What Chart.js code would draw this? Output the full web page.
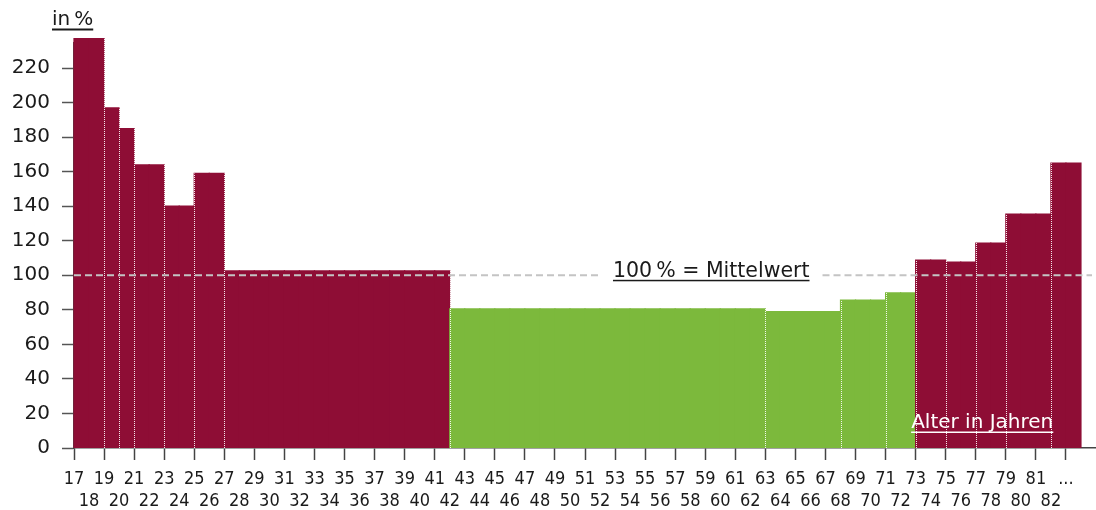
<!DOCTYPE html>
<html>
<head>
<meta charset="utf-8">
<script src="https://cdn.jsdelivr.net/npm/chart.js@4.4.0/dist/chart.umd.min.js"></script>
<style>
  body { margin: 0; background: #fff; }
  #wrap { width: 1096px; height: 510px; position: relative; }
</style>
</head>
<body>
<div id="wrap"><canvas id="chart"></canvas></div>
<script>
// tick labels of the age axis (ages 17 ... 83)
const ageLabels = [
  '17','18','19','20','21','22','23','24','25','26','27','28','29','30','31','32',
  '33','34','35','36','37','38','39','40','41','42','43','44','45','46','47','48',
  '49','50','51','52','53','54','55','56','57','58','59','60','61','62','63','64',
  '65','66','67','68','69','70','71','72','73','74','75','76','77','78','79','80',
  '81','82','...'
];
const yTicks = [0, 20, 40, 60, 80, 100, 120, 140, 160, 180, 200, 220];

// age groups: first age, first age of the next group, value in %
const groupFrom = [17, 19, 20, 21, 23, 25, 27, 42, 63, 68, 71, 73, 75, 77, 79, 82];
const groupTo = [19, 20, 21, 23, 25, 27, 42, 63, 68, 71, 73, 75, 77, 79, 82, 84];
const groupValues = [237, 197, 185, 164, 140, 159, 102.5, 80.5, 79, 85.7, 89.8, 108.8, 107.7, 118.7, 135.4, 164.9];

const MEAN = 100;
const RED = '#8e0d35';
const GREEN = '#7cb93c';
const FONT = "'DejaVu Sans', sans-serif";

// one bar per year, every year gets the value of its group
const firstAge = groupFrom[0];
const axisEnd = groupTo[groupTo.length - 1] + 1;
const barAges = [];
const barValues = [];
for (let a = firstAge; a < axisEnd; a++) {
  barAges.push(String(a));
  const g = groupFrom.findIndex((f, i) => a >= f && a < groupTo[i]);
  barValues.push(g < 0 ? null : groupValues[g]);
}

const overlay = {
  id: 'overlay',
  afterDatasetsDraw(chart) {
    const { ctx, chartArea, scales: { x, y } } = chart;
    ctx.save();

    // white dotted separators between groups
    ctx.strokeStyle = 'rgba(255,255,255,0.9)';
    ctx.lineWidth = 1;
    ctx.setLineDash([1, 1]);
    for (let g = 1; g < groupFrom.length; g++) {
      const px = Math.round(x.getPixelForValue(groupFrom[g])) + 0.5;
      const top = y.getPixelForValue(Math.max(groupValues[g - 1], groupValues[g]));
      ctx.beginPath();
      ctx.moveTo(px, y.getPixelForValue(0));
      ctx.lineTo(px, top);
      ctx.stroke();
    }

    // mean line with its label
    const my = y.getPixelForValue(MEAN);
    const label = '100\u2009% = Mittelwert';
    ctx.font = '20.5px ' + FONT;
    const tw = ctx.measureText(label).width;
    const cx = x.getPixelForValue(59.4);
    const gapL = cx - tw / 2 - 13;
    const gapR = cx + tw / 2 + 13;
    ctx.strokeStyle = '#c4c4c4';
    ctx.lineWidth = 2;
    ctx.setLineDash([7, 4]);
    ctx.beginPath();
    ctx.moveTo(chartArea.left, my);
    ctx.lineTo(gapL, my);
    ctx.moveTo(gapR, my);
    ctx.lineTo(chartArea.right - 4, my);
    ctx.stroke();
    ctx.setLineDash([]);

    ctx.fillStyle = '#1a1a1a';
    ctx.textAlign = 'center';
    ctx.textBaseline = 'alphabetic';
    ctx.fillText(label, cx, my + 2);
    ctx.fillRect(cx - tw / 2, my + 4.5, tw, 1.5);

    // unit label
    ctx.font = '20px ' + FONT;
    ctx.textAlign = 'left';
    const unit = 'in\u2009%';
    const uw = ctx.measureText(unit).width;
    ctx.fillText(unit, 52, 25);
    ctx.fillRect(52, 28.5, uw, 2);

    // axis title inside the bars
    ctx.fillStyle = '#fff';
    const title = 'Alter in Jahren';
    const ttw = ctx.measureText(title).width;
    const tx = x.getPixelForValue(72.7);
    ctx.fillText(title, tx, chartArea.bottom - 20);
    ctx.fillRect(tx, chartArea.bottom - 16.5, ttw, 1.5);

    ctx.restore();
  }
};

new Chart(document.getElementById('chart'), {
  type: 'bar',
  data: {
    labels: barAges,
    datasets: [{
      data: barValues,
      xAxisID: 'xb',
      backgroundColor: barValues.map(v => v >= MEAN ? RED : GREEN),
      borderWidth: 0,
      barPercentage: 1,
      categoryPercentage: 1,
      inflateAmount: 0.6,
      clip: false
    }]
  },
  options: {
    responsive: true,
    maintainAspectRatio: false,
    animation: false,
    layout: { padding: { top: 43, left: 0, right: 0, bottom: 0 } },
    plugins: { legend: { display: false }, tooltip: { enabled: false } },
    scales: {
      xb: {
        type: 'category',
        display: false,
        offset: true
      },
      x: {
        type: 'linear',
        position: 'bottom',
        offset: false,
        min: firstAge,
        max: axisEnd,
        afterBuildTicks: axis => {
          axis.ticks = ageLabels.map((_, i) => ({ value: firstAge + i }));
        },
        afterFit: axis => { axis.height = 62; },
        border: { color: '#444', width: 1.5 },
        grid: {
          offset: false,
          drawOnChartArea: false,
          tickLength: 12,
          tickWidth: 1.5,
          tickColor: c => (c.tick && c.tick.value % 2 === 1) ? '#444' : 'rgba(0,0,0,0)'
        },
        ticks: {
          autoSkip: false,
          maxRotation: 0,
          padding: 9,
          color: '#1a1a1a',
          font: { family: "'DejaVu Sans Condensed', 'DejaVu Sans', sans-serif", size: 18, lineHeight: 1.2 },
          callback: v => {
            const s = ageLabels[v - firstAge];
            return (v % 2 === 1) ? [s, ''] : ['', s];
          }
        }
      },
      y: {
        min: 0,
        max: 234.5,
        afterBuildTicks: axis => {
          axis.ticks = yTicks.map(v => ({ value: v }));
        },
        afterFit: axis => { axis.width = 74; },
        border: { color: '#444', width: 1.5 },
        grid: { drawOnChartArea: false, tickLength: 12, tickWidth: 1.5, tickColor: '#555' },
        ticks: {
          padding: 12,
          color: '#1a1a1a',
          font: { family: FONT, size: 20 }
        }
      }
    }
  },
  plugins: [overlay]
});
</script>
</body>
</html>
